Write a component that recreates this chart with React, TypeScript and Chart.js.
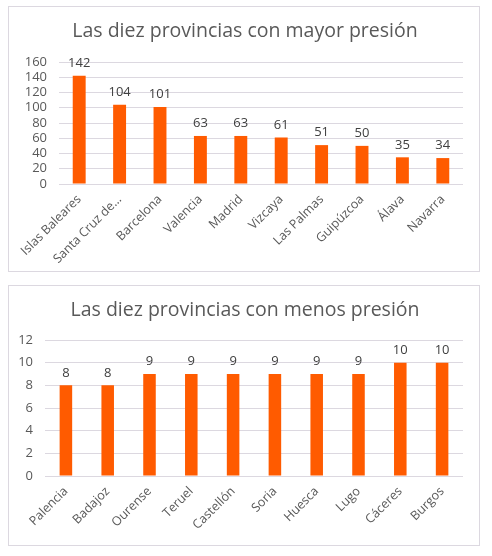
import React, { useEffect, useRef } from "react";
import { Chart, registerables } from "chart.js";

Chart.register(...registerables);

const topTitle = "Las diez provincias con mayor presión";
const topCategories = [
  "Islas Baleares",
  "Santa Cruz de...",
  "Barcelona",
  "Valencia",
  "Madrid",
  "Vizcaya",
  "Las Palmas",
  "Guipúzcoa",
  "Álava",
  "Navarra",
];
const topValues = [142, 104, 101, 63, 63, 61, 51, 50, 35, 34];

const bottomTitle = "Las diez provincias con menos presión";
const bottomCategories = [
  "Palencia",
  "Badajoz",
  "Ourense",
  "Teruel",
  "Castellón",
  "Soria",
  "Huesca",
  "Lugo",
  "Cáceres",
  "Burgos",
];
const bottomValues = [8, 8, 9, 9, 9, 9, 9, 9, 10, 10];

const FONT = "'Open Sans', sans-serif";
const BAR = "#FF5B00";
const TEXT = "#595959";
const LABEL = "#404040";
const GRID = "#dcd8e0";

const dataLabels = {
  id: "dataLabels",
  afterDatasetsDraw(chart: any) {
    const ctx = chart.ctx;
    ctx.save();
    ctx.font = `13px ${FONT}`;
    ctx.fillStyle = LABEL;
    ctx.textAlign = "center";
    ctx.textBaseline = "bottom";
    chart.data.datasets.forEach((ds: any, i: number) => {
      const meta = chart.getDatasetMeta(i);
      meta.data.forEach((el: any, j: number) => {
        ctx.fillText(String(ds.data[j]), el.x, el.y - 6);
      });
    });
    ctx.restore();
  },
};

const centeredTitle = {
  id: "centeredTitle",
  afterDraw(chart: any, _args: any, opts: any) {
    const ctx = chart.ctx;
    ctx.save();
    ctx.font = `19.5px ${FONT}`;
    ctx.fillStyle = TEXT;
    ctx.textAlign = "center";
    ctx.textBaseline = "middle";
    ctx.fillText(opts.text, chart.width / 2 + 1, opts.y);
    ctx.restore();
  },
};

type Cfg = {
  title: string;
  labels: string[];
  values: number[];
  max: number;
  step: number;
  yWidth: number;
  xHeight: number;
  plotTop: number;
  barPct: number;
  width: number;
  height: number;
};

function BarChart({ cfg }: { cfg: Cfg }) {
  const ref = useRef<HTMLCanvasElement>(null);
  useEffect(() => {
    if (!ref.current) return;
    const chart = new Chart(ref.current, {
      type: "bar",
      data: {
        labels: cfg.labels,
        datasets: [
          {
            data: cfg.values,
            backgroundColor: BAR,
            categoryPercentage: 1,
            barPercentage: cfg.barPct,
          },
        ],
      },
      options: {
        animation: false,
        responsive: false,
        maintainAspectRatio: false,
        layout: { padding: { left: 0, right: 16, top: cfg.plotTop, bottom: 0 } },
        plugins: {
          legend: { display: false },
          tooltip: { enabled: false },
          title: { display: false },
          centeredTitle: { text: cfg.title, y: 24 },
        } as any,
        scales: {
          x: {
            grid: { display: false, drawTicks: false },
            border: { display: false },
            ticks: {
              color: TEXT,
              font: { family: FONT, size: 12.5 },
              maxRotation: 45,
              minRotation: 45,
              padding: 8,
              autoSkip: false,
            },
            afterFit(scale: any) {
              scale.height = cfg.xHeight;
            },
          },
          y: {
            min: 0,
            max: cfg.max,
            grid: { color: GRID, drawTicks: false },
            border: { display: false },
            ticks: {
              stepSize: cfg.step,
              autoSkip: false,
              color: TEXT,
              font: { family: FONT, size: 13 },
              padding: 12,
            },
            afterFit(scale: any) {
              scale.width = cfg.yWidth;
            },
          },
        },
      },
      plugins: [dataLabels, centeredTitle],
    });
    return () => chart.destroy();
  }, []);
  return <canvas ref={ref} width={cfg.width} height={cfg.height} style={{ display: "block" }} />;
}

export default function App() {
  const boxStyle = (top: number, h: number): React.CSSProperties => ({
    position: "absolute",
    left: 8,
    top,
    width: 472,
    height: h,
    boxSizing: "border-box",
    border: "1px solid #dcd8e0",
    background: "#fff",
  });
  return (
    <div style={{ position: "absolute", left: 0, top: 0, width: 492, height: 556, background: "#fff" }}>
      <div style={boxStyle(6, 266)}>
        <BarChart
          cfg={{
            title: topTitle,
            labels: topCategories,
            values: topValues,
            max: 160,
            step: 20,
            yWidth: 50,
            xHeight: 87,
            plotTop: 55,
            barPct: 0.32,
            width: 470,
            height: 264,
          }}
        />
      </div>
      <div style={boxStyle(285, 261)}>
        <BarChart
          cfg={{
            title: bottomTitle,
            labels: bottomCategories,
            values: bottomValues,
            max: 12,
            step: 2,
            yWidth: 36,
            xHeight: 69,
            plotTop: 54,
            barPct: 0.3,
            width: 470,
            height: 259,
          }}
        />
      </div>
    </div>
  );
}
